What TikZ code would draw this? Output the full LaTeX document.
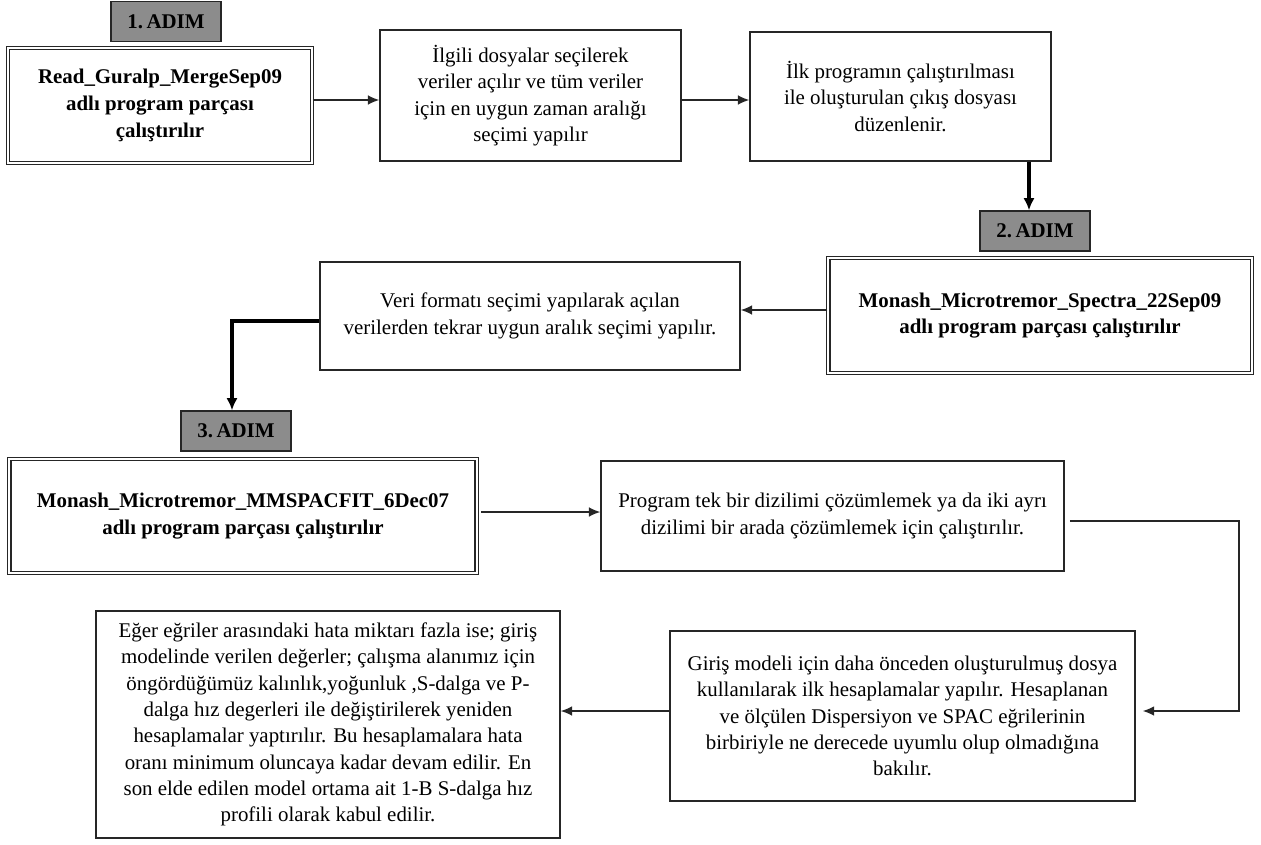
\documentclass[tikz,border=0pt]{standalone}
\usepackage{fontspec}
\setmainfont{Liberation Serif}
\usetikzlibrary{arrows.meta, positioning}
\tikzstyle{block}=[draw=black!85,line width=0.8pt,fill=white,rectangle,inner sep=0pt,align=center,font=\fontsize{11.9}{15}\selectfont]
\tikzstyle{progblock}=[block,double,line width=0.7pt,double distance=1.4pt,font=\fontsize{11.9}{15.3}\selectfont\bfseries]
\tikzstyle{adim}=[draw=black!85,line width=0.8pt,fill=black!45,rectangle,minimum width=2.2cm,minimum height=0.8cm,font=\fontsize{11.9}{15}\selectfont\bfseries]
\tikzstyle{flow}=[-{Latex[length=6.5pt,width=5.5pt]},line width=0.8pt,black!85]
\tikzstyle{thickflow}=[-{Latex[length=7pt,width=6.5pt]},line width=2.2pt]

\begin{document}
\begin{tikzpicture}[x=0.02cm,y=-0.02cm]
  \useasboundingbox (0,0) rectangle (1261,845);
  \node[adim] (adim1) at (166,21.5) {1.\,ADIM};
  \node[progblock, minimum width=6.08cm, minimum height=2.3cm] (guralp) at (160,105.5)
    {Read\_Guralp\_MergeSep09\\adlı program parçası\\çalıştırılır};
  \node[block, minimum width=6.02cm, minimum height=2.62cm] (secim) at (530.5,95.5)
    {İlgili dosyalar seçilerek\\veriler açılır ve tüm veriler\\için en uygun zaman aralığı\\seçimi yapılır};
  \node[block, minimum width=6.02cm, minimum height=2.58cm] (cikis) at (900.5,96.5)
    {İlk programın çalıştırılması\\ile oluşturulan çıkış dosyası\\düzenlenir.};
  \node[adim] (adim2) at (1035,231) {2.\,ADIM};
  \node[progblock, minimum width=8.48cm, minimum height=2.3cm] (spectra) at (1040,315.5)
    {Monash\_Microtremor\_Spectra\_22Sep09\\adlı program parçası çalıştırılır};
  \node[block, minimum width=8.4cm, minimum height=2.16cm] (format) at (530,316)
    {Veri formatı seçimi yapılarak açılan\\verilerden tekrar uygun aralık seçimi yapılır.};
  \node[adim] (adim3) at (236,431) {3.\,ADIM};
  \node[progblock, minimum width=9.36cm, minimum height=2.28cm] (spacfit) at (243,516)
    {Monash\_Microtremor\_MMSPACFIT\_6Dec07\\adlı program parçası çalıştırılır};
  \node[block, minimum width=9.26cm, minimum height=2.2cm] (dizilim) at (832.5,516)
    {Program tek bir dizilimi çözümlemek ya da iki ayrı\\dizilimi bir arada çözümlemek için çalıştırılır.};
  \node[block, minimum width=9.3cm, minimum height=3.4cm] (girismodel) at (902.5,716)
    {Giriş modeli için daha önceden oluşturulmuş dosya\\kullanılarak ilk hesaplamalar yapılır. Hesaplanan\\ve ölçülen Dispersiyon ve SPAC eğrilerinin\\birbiriyle ne derecede uyumlu olup olmadığına\\bakılır.};
  \node[block, minimum width=9.28cm, minimum height=4.54cm] (profil) at (328,724.5)
    {Eğer eğriler arasındaki hata miktarı fazla ise; giriş\\modelinde verilen değerler; çalışma alanımız için\\öngördüğümüz kalınlık,yoğunluk ,S-dalga ve P-\\dalga hız degerleri ile değiştirilerek yeniden\\hesaplamalar yaptırılır. Bu hesaplamalara hata\\oranı minimum oluncaya kadar devam edilir. En\\son elde edilen model ortama ait 1-B S-dalga hız\\profili olarak kabul edilir.};
  \coordinate (turn) at (1239,521);
  \draw[flow] (guralp.east |- 0,100) -- (secim.west |- 0,100);
  \draw[flow] (secim.east |- 0,100) -- (cikis.west |- 0,100);
  \draw[thickflow] (cikis.south -| 1029,0) -- (adim2.north -| 1029,0);
  \draw[flow] (spectra.west |- 0,310) -- (format.east |- 0,310);
  \draw[thickflow] (format.west |- 0,321) -| (adim3.north -| 232,0);
  \draw[flow, shorten <=2pt] (spacfit.east |- 0,512) -- (dizilim.west |- 0,512);
  \draw[flow, shorten <=3pt] (dizilim.east |- 0,521) -- (turn) |- ([xshift=4pt]girismodel.east |- 0,711);
  \draw[flow] (girismodel.west |- 0,711) -- (profil.east |- 0,711);
\end{tikzpicture}
\end{document}
